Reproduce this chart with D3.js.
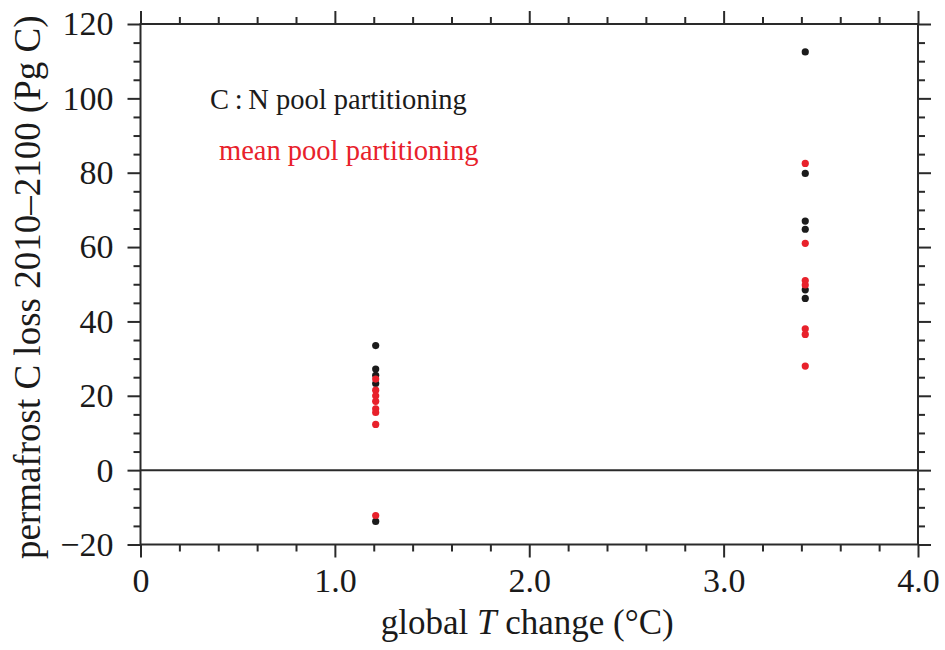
<!DOCTYPE html>
<html>
<head>
<meta charset="utf-8">
<script src="https://cdn.jsdelivr.net/npm/d3@7"></script>
<style>
  html, body { margin: 0; padding: 0; background: #fff; }
  svg { display: block; font-family: "Liberation Serif", "DejaVu Serif", serif; }
</style>
</head>
<body>
<svg id="chart" width="945" height="650"></svg>
<script>
// Global warming (°C) of the two scenarios
const warmingLow = 1.21;
const warmingHigh = 3.42;

// Permafrost carbon loss 2010–2100 (Pg C), C:N pool partitioning
const cnLossLow = [33.5, 27.2, 25.5, 23.3, -13.8];
const cnLossHigh = [112.5, 79.8, 67.0, 64.8, 48.5, 46.2];

// Permafrost carbon loss 2010–2100 (Pg C), mean pool partitioning
const meanLossLow = [24.5, 21.5, 20.0, 18.5, 16.5, 15.5, 12.3, -12.2];
const meanLossHigh = [82.5, 61.0, 51.0, 49.8, 38.0, 36.5, 28.0];

// Axis ticks
const xMajorTicks = [0, 1, 2, 3, 4];
const xTickLabels = ["0", "1.0", "2.0", "3.0", "4.0"];
const yMajorTicks = [-20, 0, 20, 40, 60, 80, 100, 120];

const legendLabels = ["C\u2009:\u2009N pool partitioning", "mean pool partitioning"];
const seriesColors = ["#1b1b1b", "#e8212b"];

const svg = d3.select("#chart");
const plotLeft = 140.5, plotRight = 918, plotTop = 24, plotBottom = 544.5;

const x = d3.scaleLinear().domain([0, 4]).range([plotLeft, plotRight]);
const y = d3.scaleLinear().domain([-20, 120]).range([plotBottom, plotTop]);

const axisColor = "#2a2a2a";
const majorLen = 13, minorLen = 7;

const xMinor = d3.range(0, 4.0001, 0.2).filter(v => Math.abs(v - Math.round(v)) > 1e-6);
const yMinor = d3.range(-20, 120.0001, 5).filter(v => v % 20 !== 0);

function styleAxis(g) {
  g.select(".domain").remove();
  g.selectAll(".tick line").attr("stroke", axisColor).attr("stroke-width", 2);
}

// minor ticks (no labels)
svg.append("g").attr("transform", `translate(0,${plotBottom})`)
  .call(d3.axisBottom(x).tickValues(xMinor).tickSize(minorLen).tickFormat(""))
  .call(styleAxis);
svg.append("g").attr("transform", `translate(0,${plotTop})`)
  .call(d3.axisTop(x).tickValues(xMinor).tickSize(minorLen).tickFormat(""))
  .call(styleAxis);
svg.append("g").attr("transform", `translate(${plotLeft},0)`)
  .call(d3.axisLeft(y).tickValues(yMinor).tickSize(minorLen).tickFormat(""))
  .call(styleAxis);
svg.append("g").attr("transform", `translate(${plotRight},0)`)
  .call(d3.axisRight(y).tickValues(yMinor).tickSize(minorLen).tickFormat(""))
  .call(styleAxis);

// major ticks
const xAxisB = svg.append("g").attr("transform", `translate(0,${plotBottom})`)
  .call(d3.axisBottom(x).tickValues(xMajorTicks).tickSize(majorLen)
    .tickFormat((d, i) => xTickLabels[i]).tickPadding(10))
  .call(styleAxis);
xAxisB.selectAll("text").attr("font-size", 34).attr("fill", "#1a1a1a")
  .attr("font-family", "Liberation Serif");

svg.append("g").attr("transform", `translate(0,${plotTop})`)
  .call(d3.axisTop(x).tickValues(xMajorTicks).tickSize(majorLen).tickFormat(""))
  .call(styleAxis);

const yAxisL = svg.append("g").attr("transform", `translate(${plotLeft},0)`)
  .call(d3.axisLeft(y).tickValues(yMajorTicks).tickSize(majorLen)
    .tickFormat(d => d < 0 ? "\u2212" + Math.abs(d) : String(d)).tickPadding(14))
  .call(styleAxis);
yAxisL.selectAll("text").attr("font-size", 34).attr("fill", "#1a1a1a")
  .attr("font-family", "Liberation Serif");

svg.append("g").attr("transform", `translate(${plotRight},0)`)
  .call(d3.axisRight(y).tickValues(yMajorTicks).tickSize(majorLen).tickFormat(""))
  .call(styleAxis);

// frame
svg.append("rect")
  .attr("x", plotLeft).attr("y", plotTop)
  .attr("width", plotRight - plotLeft).attr("height", plotBottom - plotTop)
  .attr("fill", "none").attr("stroke", axisColor).attr("stroke-width", 2);

// zero line
svg.append("line")
  .attr("x1", plotLeft).attr("x2", plotRight)
  .attr("y1", y(0)).attr("y2", y(0))
  .attr("stroke", axisColor).attr("stroke-width", 2);

// points
const cnPoints = cnLossLow.map(v => [warmingLow, v]).concat(cnLossHigh.map(v => [warmingHigh, v]));
const meanPoints = meanLossLow.map(v => [warmingLow, v]).concat(meanLossHigh.map(v => [warmingHigh, v]));

[cnPoints, meanPoints].forEach((pts, i) => {
  svg.append("g").selectAll("circle").data(pts).join("circle")
    .attr("cx", d => x(d[0])).attr("cy", d => y(d[1]))
    .attr("r", 3.6).attr("fill", seriesColors[i]);
});

// legend
const legendPos = [[210, 109], [219, 160]];
legendLabels.forEach((t, i) => {
  svg.append("text")
    .attr("x", legendPos[i][0]).attr("y", legendPos[i][1])
    .attr("font-size", 28.5).attr("fill", seriesColors[i])
    .text(t);
});

// axis titles
const xt = svg.append("text")
  .attr("x", (plotLeft + plotRight) / 2 - 2).attr("y", 634)
  .attr("text-anchor", "middle").attr("font-size", 35).attr("fill", "#1a1a1a");
xt.append("tspan").text("global ");
xt.append("tspan").attr("font-style", "italic").text("T");
xt.append("tspan").text(" change (\u00b0C)");

svg.append("text")
  .attr("transform", `translate(40,${(plotTop + plotBottom) / 2 + 3}) rotate(-90)`)
  .attr("text-anchor", "middle").attr("font-size", 37).attr("fill", "#1a1a1a")
  .text("permafrost C loss 2010\u20132100 (Pg C)");
</script>
</body>
</html>
